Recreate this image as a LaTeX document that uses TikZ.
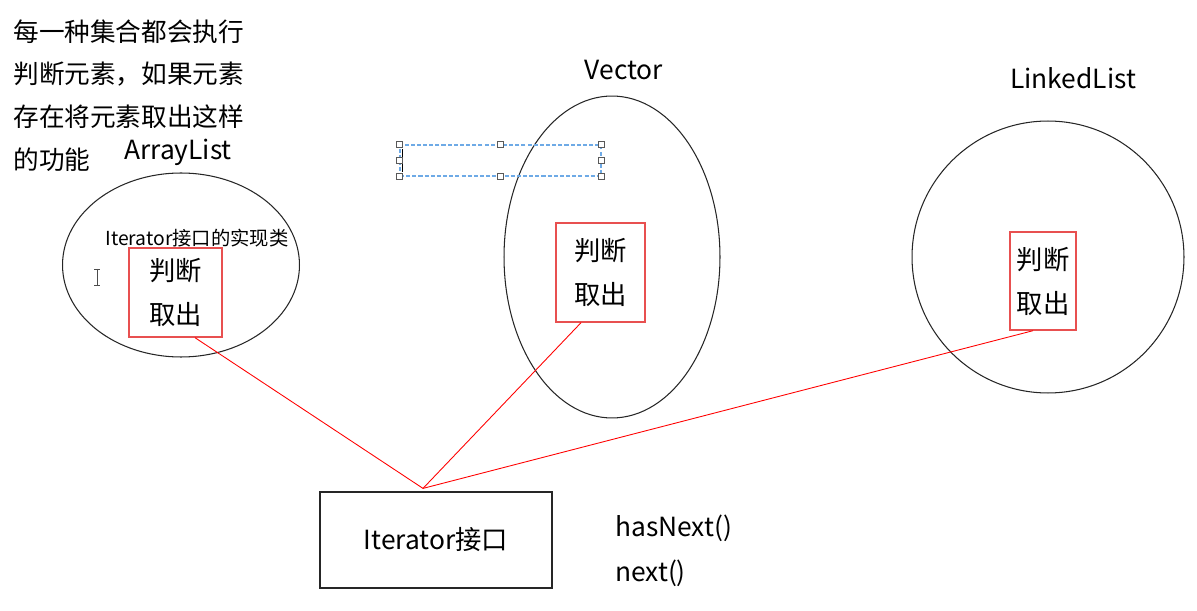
\documentclass[tikz,border=0pt]{standalone}
\usepackage{fontspec}
\setmainfont{Noto Sans CJK SC}
\usetikzlibrary{calc,shapes.geometric}
\definecolor{boxred}{RGB}{232,80,80}
\definecolor{selblue}{RGB}{110,170,230}
\begin{document}
\begin{tikzpicture}[x=0.02cm, y=-0.02cm,
  coll/.style={draw=black!85, line width=0.6pt, inner sep=0pt, outer sep=0pt},
  pick/.style={draw=boxred, line width=0.8pt, inner sep=0pt, align=center, font=\fontsize{15}{25}\selectfont},
  colname/.style={font=\fontsize{15}{18}\selectfont},
  link/.style={red, line width=0.5pt},
  handle/.style={draw=black!65, fill=white, line width=0.4pt, minimum size=0.11cm, inner sep=0pt}]
\useasboundingbox (0,0) rectangle (1197,611);
\node[anchor=north west, inner sep=0pt, align=left, font=\fontsize{14.6}{24.4}\selectfont] (note) at (13,19) {每一种集合都会执行\\判断元素，如果元素\\存在将元素取出这样\\的功能};
\node[coll, ellipse, minimum width=4.74cm, minimum height=3.68cm] (alSet) at (181,265) {};
\node[colname] (alName) at (178,152) {ArrayList};
\node[font=\fontsize{11}{13}\selectfont] (alImpl) at (197,238) {Iterator接口的实现类};
\node[pick, minimum width=1.86cm, minimum height=1.78cm] (alBox) at (175.5,292.5) {判断\\取出};
\draw[black!70, line width=0.5pt] (97,269) -- (97,285) (94,269) -- (100,269) (94,285) -- (100,285);
\node[coll, ellipse, minimum width=4.32cm, minimum height=6.44cm] (vSet) at (612,257) {};
\node[colname] (vName) at (624,70) {Vector};
\node[pick, minimum width=1.78cm, minimum height=1.98cm] (vBox) at (600.5,272.5) {判断\\取出};
\node[draw=selblue, dashed, dash pattern=on 2.3pt off 1.2pt, line width=0.6pt, minimum width=4.02cm, minimum height=0.62cm, inner sep=0pt] (sel) at (500.5,160.5) {};
\draw[black, line width=0.6pt] ([xshift=0.06cm,yshift=0.24cm]sel.west) -- ([xshift=0.06cm,yshift=-0.24cm]sel.west);
\foreach \a/\n in {north west/1, north/2, north east/3, east/4, south east/5, south/6, south west/7, west/8}
  \node[handle] (hd\n) at (sel.\a) {};
\node[coll, circle, minimum size=5.44cm] (llSet) at (1048,257) {};
\node[colname] (llName) at (1073,78) {LinkedList};
\node[pick, minimum width=1.32cm, minimum height=1.96cm] (llBox) at (1043,281) {判断\\取出};
\node[draw=black!85, line width=0.7pt, minimum width=4.64cm, minimum height=1.92cm, inner sep=0pt, font=\fontsize{15}{17}\selectfont] (iter) at (436,540) {Iterator接口};
\coordinate (meet) at ([xshift=-0.26cm,yshift=0.06cm]iter.north);
\draw[link] ([xshift=0.39cm]alBox.south) -- (meet);
\draw[link] ([xshift=-0.39cm]vBox.south) -- (meet);
\draw[link] ([xshift=-0.2cm]llBox.south) -- (meet);
\node[anchor=west, font=\fontsize{15}{18}\selectfont] (hasnext) at (609,528) {hasNext()};
\node[anchor=west, font=\fontsize{15}{18}\selectfont] (next) at (609,573) {next()};
\end{tikzpicture}
\end{document}
